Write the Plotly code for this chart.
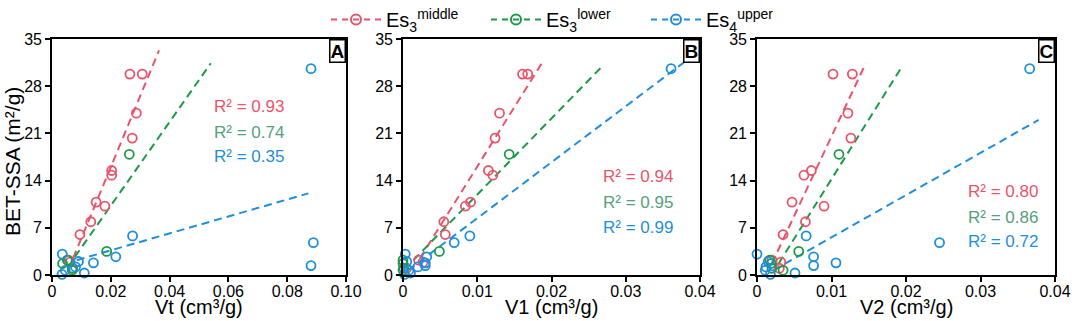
import plotly.graph_objects as go

# ---------------- data ----------------
# Es3 middle
mid_ssa = [29.8, 29.8, 24.0, 20.3, 15.5, 14.8, 10.8, 10.2, 7.9, 6.0, 2.2, 1.9, 1.0]
mid_vt = [0.0265, 0.0307, 0.0287, 0.0273, 0.0203, 0.0203, 0.0150, 0.0180, 0.0132, 0.0095, 0.0056, 0.0062, 0.0070]
mid_v1 = [0.0161, 0.0168, 0.0130, 0.0124, 0.0115, 0.0121, 0.0091, 0.0084, 0.0055, 0.0057, 0.0021, 0.0027, 0.0005]
mid_v2 = [0.0102, 0.0128, 0.0122, 0.0126, 0.0073, 0.0063, 0.0047, 0.0090, 0.0065, 0.0035, 0.0020, 0.0032, 0.0030]
# Es3 lower
low_ssa = [17.9, 3.5, 2.2, 1.7, 1.0, 0.7]
low_vt = [0.0263, 0.0186, 0.0052, 0.0036, 0.0069, 0.0069]
low_v1 = [0.0143, 0.0049, 0.0000, 0.0000, 0.0001, 0.0000]
low_v2 = [0.0110, 0.0056, 0.0017, 0.0019, 0.0020, 0.0035]
# Es4 upper
up_ssa = [30.6, 5.8, 4.8, 1.4, 2.7, 1.8, 3.1, 2.0, 0.3, 0.1, 0.7, 1.2]
up_vt = [0.0881, 0.0274, 0.0889, 0.0881, 0.0217, 0.0141, 0.0035, 0.0090, 0.0110, 0.0034, 0.0045, 0.0080]
up_v1 = [0.0361, 0.0090, 0.0069, 0.0030, 0.0032, 0.0030, 0.0003, 0.0005, 0.0010, 0.0002, 0.0008, 0.0020]
up_v2 = [0.0366, 0.0066, 0.0245, 0.0076, 0.0076, 0.0106, 0.0000, 0.0015, 0.0051, 0.0018, 0.0011, 0.0012]

# trend lines (end points)
fit_a_mid_x, fit_a_mid_y = [0.0072, 0.0364], [2.5, 33.3]
fit_a_low_x, fit_a_low_y = [0.0078, 0.0540], [2.7, 31.4]
fit_a_up_x, fit_a_up_y = [0.0084, 0.0872], [2.2, 12.1]
fit_b_mid_x, fit_b_mid_y = [0.0023, 0.0188], [2.5, 31.6]
fit_b_low_x, fit_b_low_y = [0.0014, 0.0267], [2.2, 30.8]
fit_b_up_x, fit_b_up_y = [0.0007, 0.0378], [0.7, 31.5]
fit_c_mid_x, fit_c_mid_y = [0.0020, 0.0146], [1.7, 31.4]
fit_c_low_x, fit_c_low_y = [0.0029, 0.0194], [1.7, 30.8]
fit_c_up_x, fit_c_up_y = [0.0022, 0.0378], [0.7, 23.0]

r2_a = ["0.93", "0.74", "0.35"]
r2_b = ["0.94", "0.95", "0.99"]
r2_c = ["0.80", "0.86", "0.72"]

panel_labels = ["A", "B", "C"]
x_titles = ["Vt (cm³/g)", "V1 (cm³/g)", "V2 (cm³/g)"]
y_title = "BET-SSA (m²/g)"
x_ranges = [[0, 0.10], [0, 0.04], [0, 0.04]]
x_tickvals = [[0, 0.02, 0.04, 0.06, 0.08, 0.10], [0, 0.01, 0.02, 0.03, 0.04], [0, 0.01, 0.02, 0.03, 0.04]]
x_ticktext = [["0", "0.02", "0.04", "0.06", "0.08", "0.10"], ["0", "0.01", "0.02", "0.03", "0.04"],
              ["0", "0.01", "0.02", "0.03", "0.04"]]
y_ticks = [0, 7, 14, 21, 28, 35]
legend_names = ["Es<sub>3</sub><sup>middle</sup>", "Es<sub>3</sub><sup>lower</sup>", "Es<sub>4</sub><sup>upper</sup>"]

RED, GREEN, BLUE = "#E9546B", "#1C9A47", "#1F8FDC"
RED_T, GREEN_T, BLUE_T = "#E9546B", "#55A07E", "#1F8FDC"

W, H = 1072, 321
def fx(px):
    return px / W
def fy(py):
    return 1 - py / H

px_domains = [(52, 346), (403, 700), (757, 1055)]
domains_x = [[fx(a), fx(b)] for a, b in px_domains]
dom_y = [fy(275), fy(39)]

fig = go.Figure()

panels = [
    (mid_vt, low_vt, up_vt, (fit_a_mid_x, fit_a_mid_y), (fit_a_low_x, fit_a_low_y), (fit_a_up_x, fit_a_up_y)),
    (mid_v1, low_v1, up_v1, (fit_b_mid_x, fit_b_mid_y), (fit_b_low_x, fit_b_low_y), (fit_b_up_x, fit_b_up_y)),
    (mid_v2, low_v2, up_v2, (fit_c_mid_x, fit_c_mid_y), (fit_c_low_x, fit_c_low_y), (fit_c_up_x, fit_c_up_y)),
]
colors = [RED, GREEN, BLUE]
ssas = [mid_ssa, low_ssa, up_ssa]

for i, p in enumerate(panels):
    xa = "x" if i == 0 else f"x{i+1}"
    ya = "y" if i == 0 else f"y{i+1}"
    xs = p[:3]
    fits = p[3:]
    for k in range(3):
        fig.add_trace(go.Scatter(x=fits[k][0], y=fits[k][1], mode="lines", xaxis=xa, yaxis=ya,
                                 line=dict(color=colors[k], width=2, dash="8px,5px"), showlegend=False,
                                 hoverinfo="skip"))
    for k in range(3):
        fig.add_trace(go.Scatter(x=xs[k], y=ssas[k], mode="markers", xaxis=xa, yaxis=ya,
                                 marker=dict(symbol="circle-open", size=9, color=colors[k],
                                             line=dict(width=1.8, color=colors[k])),
                                 cliponaxis=False, showlegend=False))

# legend entries
for k in range(3):
    fig.add_trace(go.Scatter(x=[None], y=[None], mode="lines+markers", name=legend_names[k],
                             line=dict(color=colors[k], width=2, dash="6px,5px"),
                             marker=dict(symbol="circle-open", size=10, color=colors[k],
                                         line=dict(width=2, color=colors[k]))))

axis_font = dict(family="Liberation Sans, Arial", size=16, color="black")
title_font = dict(family="Liberation Sans, Arial", size=20, color="black")

layout = dict(
    width=W, height=H,
    margin=dict(l=0, r=0, t=0, b=0, autoexpand=False),
    paper_bgcolor="white", plot_bgcolor="white",
    showlegend=True,
    legend=dict(orientation="h", x=fx(326), y=fy(0), xanchor="left", yanchor="top",
                font=dict(family="Liberation Sans, Arial", size=20, color="black"),
                itemwidth=50, entrywidth=95, entrywidthmode="pixels",
                bgcolor="rgba(0,0,0,0)"),
)
for i in range(3):
    xk = "xaxis" if i == 0 else f"xaxis{i+1}"
    yk = "yaxis" if i == 0 else f"yaxis{i+1}"
    ya = "y" if i == 0 else f"y{i+1}"
    xa = "x" if i == 0 else f"x{i+1}"
    layout[xk] = dict(domain=domains_x[i], anchor=ya, range=x_ranges[i],
                      tickvals=x_tickvals[i], ticktext=x_ticktext[i], automargin=False,
                      showline=True, linecolor="black", linewidth=1.6, mirror=True,
                      ticks="outside", ticklen=5, tickwidth=1.5, tickcolor="black",
                      ticklabelstandoff=-4,
                      showgrid=False, zeroline=False, tickfont=axis_font)
    layout[yk] = dict(domain=dom_y, anchor=xa, range=[0, 35], tickvals=y_ticks, automargin=False,
                      showline=True, linecolor="black", linewidth=1.6, mirror=True,
                      ticks="outside", ticklen=5, tickwidth=1.5, tickcolor="black",
                      showgrid=False, zeroline=False, tickfont=axis_font)
fig.update_layout(**layout)

# axis titles
for i, (a, b) in enumerate(px_domains):
    fig.add_annotation(text=x_titles[i], xref="paper", yref="paper", x=fx((a + b) / 2), y=fy(307),
                       xanchor="center", yanchor="middle", showarrow=False, font=title_font)
fig.add_annotation(text=y_title, xref="paper", yref="paper", x=fx(13), y=fy(162), textangle=-90,
                   xanchor="center", yanchor="middle", showarrow=False,
                   font=dict(family="Liberation Sans, Arial", size=21, color="black"))

# panel letters
for i, lab in enumerate(panel_labels):
    xa = "x" if i == 0 else f"x{i+1}"
    ya = "y" if i == 0 else f"y{i+1}"
    fig.add_annotation(text=f"<b>{lab}</b>", xref=f"{xa} domain", yref=f"{ya} domain", x=1, y=1,
                       xanchor="right", yanchor="top", showarrow=False,
                       font=dict(family="Liberation Sans, Arial", size=19, color="black"),
                       bordercolor="black", borderwidth=1.5, borderpad=0, bgcolor="white")

# R² annotations
r2_sets = [(r2_a, 212, [107, 132, 157]), (r2_b, 601, [177, 202, 227]), (r2_c, 966, [192, 217, 241])]
tcolors = [RED_T, GREEN_T, BLUE_T]
for vals, xl, ys in r2_sets:
    for k in range(3):
        fig.add_annotation(text=f"R² = {vals[k]}", xref="paper", yref="paper", x=fx(xl), y=fy(ys[k]),
                           xanchor="left", yanchor="middle", showarrow=False,
                           font=dict(family="Liberation Sans, Arial", size=17, color=tcolors[k]))

fig.write_html("out.html", config={"displayModeBar": False},
               post_script="document.body.style.margin='0px';")
